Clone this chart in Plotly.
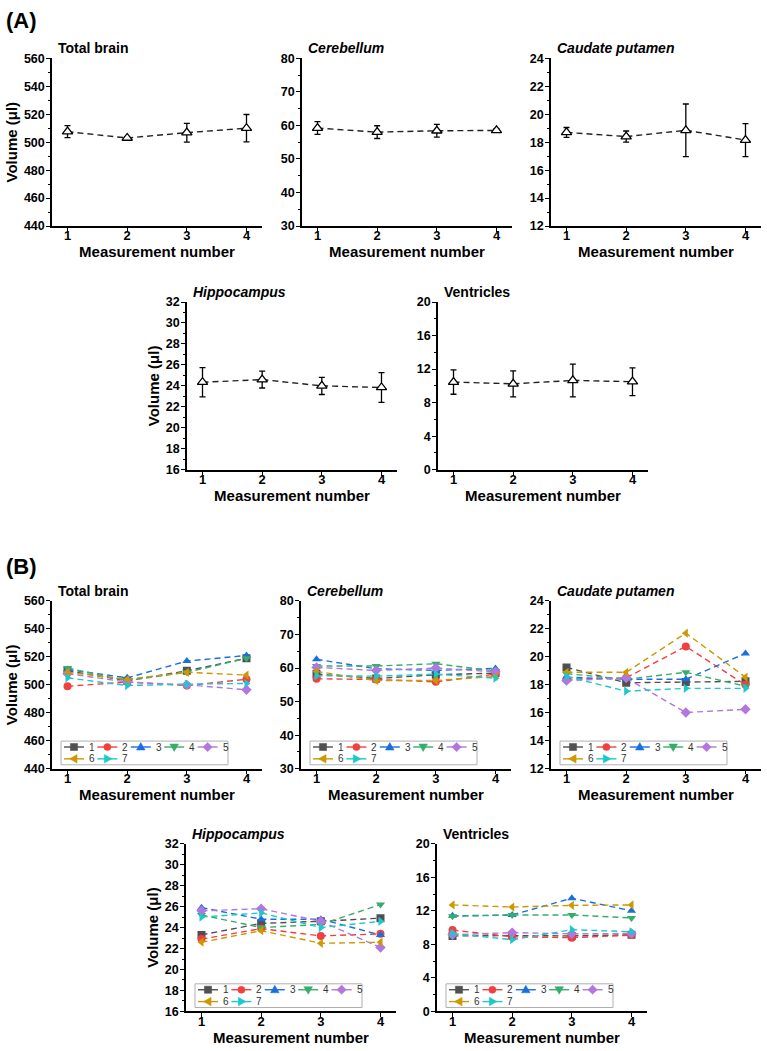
import plotly.graph_objects as go

FONT = "Liberation Sans, Arial, sans-serif"

# ---------------- data ----------------
measurements = [1, 2, 3, 4]
region_names = ["Total brain", "Cerebellum", "Caudate putamen", "Hippocampus", "Ventricles"]
region_italic = [False, True, True, True, False]
series_names = ["1", "2", "3", "4", "5", "6", "7"]

# (A) mean and SD per measurement
a_total_mean = [507.5, 503.0, 506.8, 510.0]
a_total_sd = [4.3, 1.0, 6.7, 9.8]
a_cereb_mean = [59.2, 58.0, 58.4, 58.5]
a_cereb_sd = [1.9, 1.9, 1.9, 0.5]
a_caud_mean = [18.7, 18.4, 18.85, 18.15]
a_caud_sd = [0.35, 0.4, 1.88, 1.18]
a_hippo_mean = [24.35, 24.6, 24.0, 23.85]
a_hippo_sd = [1.4, 0.8, 0.82, 1.42]
a_vent_mean = [10.45, 10.25, 10.65, 10.5]
a_vent_sd = [1.45, 1.55, 1.95, 1.65]

# (B) individual animals (series 1..7)
b_total = [
    [510, 503, 510, 519],
    [499, 502, 499.5, 504],
    [511, 505, 517, 521],
    [512, 503, 509, 519],
    [508, 502, 500, 496.5],
    [509, 504, 509, 507],
    [505, 499.5, 500.5, 501],
]
b_cereb = [
    [58.2, 56.9, 58.0, 58.5],
    [56.8, 56.6, 55.9, 58.2],
    [62.6, 59.8, 59.3, 59.9],
    [60.6, 60.6, 61.3, 59.1],
    [60.2, 59.3, 60.0, 58.9],
    [59.0, 56.3, 56.3, 57.5],
    [57.7, 57.6, 58.2, 57.0],
]
b_caud = [
    [19.25, 18.15, 18.2, 18.25],
    [18.4, 18.5, 20.75, 18.0],
    [18.55, 18.4, 18.4, 20.25],
    [18.8, 18.4, 18.9, 17.9],
    [18.3, 18.5, 16.02, 16.25],
    [18.9, 18.9, 21.7, 18.55],
    [18.6, 17.55, 17.75, 17.75],
]
b_hippo = [
    [23.3, 24.4, 24.6, 24.9],
    [22.9, 23.9, 23.2, 23.4],
    [25.9, 24.8, 24.8, 23.3],
    [25.2, 24.0, 24.3, 26.2],
    [25.6, 25.8, 24.6, 22.1],
    [22.6, 23.7, 22.5, 22.6],
    [25.0, 25.4, 24.0, 24.6],
]
b_vent = [
    [9.0, 9.05, 9.0, 9.15],
    [9.7, 8.9, 8.8, 9.1],
    [11.4, 11.5, 13.5, 12.0],
    [11.35, 11.5, 11.5, 11.15],
    [9.15, 9.4, 9.25, 9.3],
    [12.7, 12.45, 12.65, 12.7],
    [9.3, 8.55, 9.75, 9.5],
]

# axis settings per region: (min, max, major step)
y_ranges = [(440, 560, 20), (30, 80, 10), (12, 24, 2), (16, 32, 2), (0, 20, 4)]

# ---------------- styles / layout constants ----------------
W, H = 767, 1051
PW, PH = 210, 170
series_colors = ["#505050", "#f14040", "#1a6fdf", "#37ad6b", "#b177de", "#cc9900", "#1cc8cc"]
series_symbols = ["square", "circle", "triangle-up", "triangle-down", "diamond",
                  "triangle-left", "triangle-right"]
# (left px, top px) of each plot area: panel A regions then panel B regions
a_pos = [(52, 52), (302, 52), (551, 52), (187, 299), (438, 299)]
b_pos = [(52, 602), (301, 602), (551, 602), (186, 848), (437, 848)]

a_means = [a_total_mean, a_cereb_mean, a_caud_mean, a_hippo_mean, a_vent_mean]
a_sds = [a_total_sd, a_cereb_sd, a_caud_sd, a_hippo_sd, a_vent_sd]
b_data = [b_total, b_cereb, b_caud, b_hippo, b_vent]

DASH = "6px,4px"

fig = go.Figure()
layout = dict(
    width=W, height=H, autosize=False,
    margin=dict(l=0, r=0, t=0, b=0),
    paper_bgcolor="white", plot_bgcolor="white",
    showlegend=False,
    font=dict(family=FONT, color="black"),
)
annotations = []
shapes = []


def axis_pair(idx, left, top, region, ytitle):
    lo, hi, step = y_ranges[region]
    xa = dict(
        domain=[left / W, (left + PW) / W],
        anchor=f"y{idx}", range=[0.74, 4.26],
        tickvals=measurements, ticks="outside", ticklen=4, tickwidth=1.3,
        tickcolor="black", showline=True, linecolor="black", linewidth=1.5,
        showgrid=False, zeroline=False, ticklabelstandoff=-7,
        tickfont=dict(family=FONT, size=13, color="black", weight="bold"),
        title=dict(text="Measurement number", standoff=0,
                   font=dict(family=FONT, size=15, color="black", weight="bold")),
    )
    ya = dict(
        domain=[1 - (top + PH) / H, 1 - top / H],
        anchor=f"x{idx}", range=[lo, hi], dtick=step, tick0=lo,
        ticks="outside", ticklen=4, tickwidth=1.3, tickcolor="black",
        showline=True, linecolor="black", linewidth=1.5,
        showgrid=False, zeroline=False, ticklabelstandoff=-1,
        minor=dict(dtick=step / 2, ticks="outside", ticklen=2, tickwidth=1,
                   tickcolor="black", showgrid=False),
        tickfont=dict(family=FONT, size=12.5, color="black", weight="bold"),
    )
    if ytitle:
        ya["title"] = dict(text="Volume (μl)", standoff=3,
                           font=dict(family=FONT, size=15, color="black", weight="bold"))
    layout["xaxis" if idx == 1 else f"xaxis{idx}"] = xa
    layout["yaxis" if idx == 1 else f"yaxis{idx}"] = ya
    name = region_names[region]
    txt = f"<b><i>{name}</i></b>" if region_italic[region] else f"<b>{name}</b>"
    annotations.append(dict(
        text=txt, xref="paper", yref="paper",
        x=(left + 4) / W, y=1 - (top - 10) / H, xanchor="left", yanchor="middle",
        showarrow=False, font=dict(family=FONT, size=14, color="black"),
    ))


# ----- panel A -----
for r in range(5):
    idx = r + 1
    left, top = a_pos[r]
    axis_pair(idx, left, top, r, ytitle=(r in (0, 3)))
    fig.add_trace(go.Scatter(
        x=measurements, y=a_means[r], mode="lines+markers",
        xaxis=f"x{idx}", yaxis=f"y{idx}",
        line=dict(color="#222222", width=1.4, dash=DASH),
        marker=dict(symbol="triangle-up", size=9, color="white",
                    line=dict(color="black", width=1.3)),
        error_y=dict(type="data", array=a_sds[r], color="black", thickness=1.3, width=3),
        showlegend=False,
    ))

# ----- panel B -----
for r in range(5):
    idx = r + 6
    left, top = b_pos[r]
    axis_pair(idx, left, top, r, ytitle=(r in (0, 3)))
    for s in range(7):
        fig.add_trace(go.Scatter(
            x=measurements, y=b_data[r][s], mode="lines+markers",
            xaxis=f"x{idx}", yaxis=f"y{idx}", name=series_names[s],
            line=dict(color=series_colors[s], width=1.4, dash=DASH),
            marker=dict(symbol=series_symbols[s], size=8, color=series_colors[s]),
            showlegend=False,
        ))

    # in-plot legend box (drawn as layout decoration)
    bx0, bx1 = left + 9, left + 176
    by0, by1 = top + 142, top + 166
    shapes.append(dict(type="rect", xref="paper", yref="paper",
                       x0=bx0 / W, x1=bx1 / W, y0=1 - by1 / H, y1=1 - by0 / H,
                       line=dict(color="#b0b0b0", width=1), fillcolor="white", layer="above"))
    for s in range(7):
        row, col = divmod(s, 5)
        cy = top + 148 + row * 12
        lx0 = left + 12 + 33.4 * col
        lx1 = lx0 + 20
        cx = (lx0 + lx1) / 2
        col_s = series_colors[s]
        shapes.append(dict(type="line", xref="paper", yref="paper",
                           x0=lx0 / W, x1=lx1 / W, y0=1 - cy / H, y1=1 - cy / H,
                           line=dict(color=col_s, width=1.4), layer="above"))
        rr = 3.6
        sym = series_symbols[s]
        if sym == "circle":
            shapes.append(dict(type="circle", xref="paper", yref="paper",
                               x0=(cx - rr) / W, x1=(cx + rr) / W,
                               y0=1 - (cy + rr) / H, y1=1 - (cy - rr) / H,
                               line=dict(color=col_s, width=0.5), fillcolor=col_s, layer="above"))
        else:
            if sym == "square":
                pts = [(-rr, -rr), (rr, -rr), (rr, rr), (-rr, rr)]
            elif sym == "triangle-up":
                pts = [(0, -1.25 * rr), (1.2 * rr, 0.85 * rr), (-1.2 * rr, 0.85 * rr)]
            elif sym == "triangle-down":
                pts = [(0, 1.25 * rr), (1.2 * rr, -0.85 * rr), (-1.2 * rr, -0.85 * rr)]
            elif sym == "diamond":
                pts = [(0, -1.3 * rr), (1.3 * rr, 0), (0, 1.3 * rr), (-1.3 * rr, 0)]
            elif sym == "triangle-left":
                pts = [(-1.25 * rr, 0), (0.85 * rr, -1.2 * rr), (0.85 * rr, 1.2 * rr)]
            else:
                pts = [(1.25 * rr, 0), (-0.85 * rr, -1.2 * rr), (-0.85 * rr, 1.2 * rr)]
            path = "M " + " L ".join(
                f"{(cx + dx) / W:.5f},{1 - (cy + dy) / H:.5f}" for dx, dy in pts) + " Z"
            shapes.append(dict(type="path", xref="paper", yref="paper", path=path,
                               line=dict(color=col_s, width=0.5), fillcolor=col_s, layer="above"))
        annotations.append(dict(
            text=series_names[s], xref="paper", yref="paper",
            x=(lx1 + 3) / W, y=1 - cy / H, xanchor="left", yanchor="middle",
            showarrow=False, font=dict(family=FONT, size=10, color="#333333"),
        ))

# panel letters
annotations.append(dict(text="<b>(A)</b>", xref="paper", yref="paper", x=4 / W, y=1 - 14 / H,
                        xanchor="left", yanchor="middle", showarrow=False,
                        font=dict(family=FONT, size=22, color="black")))
annotations.append(dict(text="<b>(B)</b>", xref="paper", yref="paper", x=4 / W, y=1 - 567 / H,
                        xanchor="left", yanchor="middle", showarrow=False,
                        font=dict(family=FONT, size=22, color="black")))

layout["annotations"] = annotations
layout["shapes"] = shapes
fig.update_layout(**layout)
fig.write_html("out.html")
